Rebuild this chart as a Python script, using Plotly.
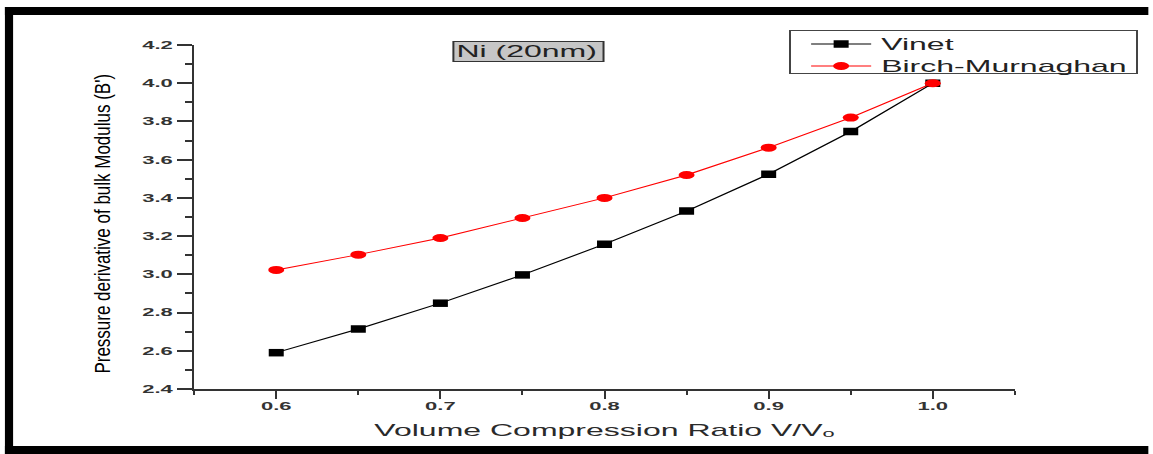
import plotly.graph_objects as go

# Volume compression ratio V/V0 and the pressure derivative of the bulk modulus B'
ratio = [0.60, 0.65, 0.70, 0.75, 0.80, 0.85, 0.90, 0.95, 1.00]
vinet = [2.59, 2.714, 2.849, 2.997, 3.158, 3.331, 3.524, 3.747, 4.00]
birch = [3.023, 3.103, 3.190, 3.295, 3.400, 3.520, 3.663, 3.820, 4.00]

x_ticks = [0.6, 0.7, 0.8, 0.9, 1.0]
y_ticks = [2.4, 2.6, 2.8, 3.0, 3.2, 3.4, 3.6, 3.8, 4.0, 4.2]

FONT = "Liberation Sans, Arial, DejaVu Sans, sans-serif"
W, H = 576, 454          # drawn width, stretched horizontally to 1153 px on the page
STRETCH = 1153 / W
L, R, T, B = 97, 67, 45, 65

fig = go.Figure()
fig.add_trace(go.Scatter(
    x=ratio, y=vinet, name="Vinet", mode="lines+markers",
    line=dict(color="#000000", width=1),
    marker=dict(symbol="square", size=7.5, color="#000000"),
))
fig.add_trace(go.Scatter(
    x=ratio, y=birch, name="Birch-Murnaghan", mode="lines+markers",
    line=dict(color="#ff0000", width=1),
    marker=dict(symbol="circle", size=8, color="#ff0000"),
))

axis_common = dict(
    showline=True, linecolor="#333333", showgrid=False, zeroline=False,
    ticks="outside", tickcolor="#333333", tickformat=".1f",
    tickfont=dict(family=FONT, size=11, color="#333333", weight="bold"),
)

fig.update_xaxes(
    **axis_common, range=[0.55, 1.05], tickvals=x_ticks,
    linewidth=1.5, ticklen=8, tickwidth=1, ticklabelstandoff=-2,
    minor=dict(dtick=0.05, tick0=0.55, ticks="outside", ticklen=4, tickwidth=1, tickcolor="#333333"),
    title=dict(text="Volume Compression Ratio V/V\u2092",
               font=dict(family=FONT, size=16, color="#2a2a2a"), standoff=14),
)
fig.update_yaxes(
    **axis_common, range=[2.4, 4.2], tickvals=y_ticks,
    linewidth=1, ticklen=7.5, tickwidth=1.6,
    minor=dict(dtick=0.1, tick0=2.4, ticks="outside", ticklen=3.75, tickwidth=1.6, tickcolor="#333333"),
)

# frame bands around the figure (paper coordinates relative to the plot area)
pw, ph = W - L - R, H - T - B
def px(xp):
    return (xp - L) / pw
def py(yp):
    return (H - B - yp) / ph

band = dict(type="rect", xref="paper", yref="paper", fillcolor="#000000", line=dict(width=0), layer="above")
fig.add_shape(**band, x0=px(2), x1=px(W), y0=py(15), y1=py(7))
fig.add_shape(**band, x0=px(2), x1=px(6.1), y0=py(H), y1=py(7))
fig.add_shape(**band, x0=px(2), x1=px(W), y0=py(H), y1=py(446))

# sample label box
fig.add_annotation(
    text="Ni (20nm)", xref="paper", yref="paper", x=px(265.3), y=py(51.7),
    xanchor="center", yanchor="middle",
    showarrow=False, font=dict(family=FONT, size=16, color="#222222"),
    bgcolor="#c6c6c6", bordercolor="#333333", borderwidth=1, borderpad=1,
    width=72, align="left",
)

# y-axis title (condensed across the text direction by the script below)
fig.add_annotation(
    text="Pressure derivative of bulk Modulus (B')", xref="paper", yref="paper",
    x=px(51), y=py(223.5), xanchor="center", yanchor="middle",
    textangle=-90, showarrow=False,
    font=dict(family=FONT, size=17, color="#000000"),
)

fig.update_layout(
    width=W, height=H, margin=dict(l=L, r=R, t=T, b=B, pad=0),
    paper_bgcolor="#ffffff", plot_bgcolor="#ffffff",
    showlegend=True,
    legend=dict(
        x=px(792 / STRETCH), y=py(30), xanchor="left", yanchor="top",
        bgcolor="#ffffff", bordercolor="#444444", borderwidth=1,
        font=dict(family=FONT, size=16, color="#222222"),
        tracegroupgap=0, itemwidth=30,
    ),
)

post = """
(function(){
  var gd = document.getElementById('{plot_id}');
  document.documentElement.style.margin = '0';
  document.body.style.margin = '0';
  gd.style.transformOrigin = '0 0';
  gd.style.transform = 'scaleX(%s)';

  function tidy(){
    if (gd.getAttribute('data-tidy')) return;
    gd.setAttribute('data-tidy', '1');

    // condense the rotated axis title across its reading direction
    gd.querySelectorAll('.annotation [transform]').forEach(function(el){
      var tr = el.getAttribute('transform') || '';
      var m = tr.match(/rotate\\(\\s*(-?[\\d.]+)[ ,]+(-?[\\d.]+)[ ,]+(-?[\\d.]+)\\s*\\)/);
      if (!m || Math.abs(parseFloat(m[1]) + 90) > 0.1) return;
      var cx = parseFloat(m[2]), cy = parseFloat(m[3]);
      el.setAttribute('transform', tr + ' translate(' + cx + ',' + cy + ') scale(1,0.64) translate(' + (-cx) + ',' + (-cy) + ')');
    });

    // tighter legend rows and a slightly wider box
    var lg = gd.querySelector('g.legend');
    if (lg) {
      lg.querySelectorAll('g.traces').forEach(function(t, i){
        t.setAttribute('transform', 'translate(6,' + (14 + 22 * i) + ')');
      });
      var bg = lg.querySelector('rect.bg');
      if (bg) { bg.setAttribute('height', 43); bg.setAttribute('width', 173.5); }
    }
    document.querySelectorAll('clipPath[id^="legend"] rect').forEach(function(r){
      r.setAttribute('width', 176); r.setAttribute('height', 44);
    });

    // drop empty placeholder texts
    gd.querySelectorAll('text').forEach(function(t){
      if (!t.textContent.replace(/\\u200b/g, '').trim()) t.remove();
    });
  }
  tidy();
})();
""" % STRETCH

fig.write_html("out.html", post_script=post, config={"responsive": False, "displayModeBar": False})
